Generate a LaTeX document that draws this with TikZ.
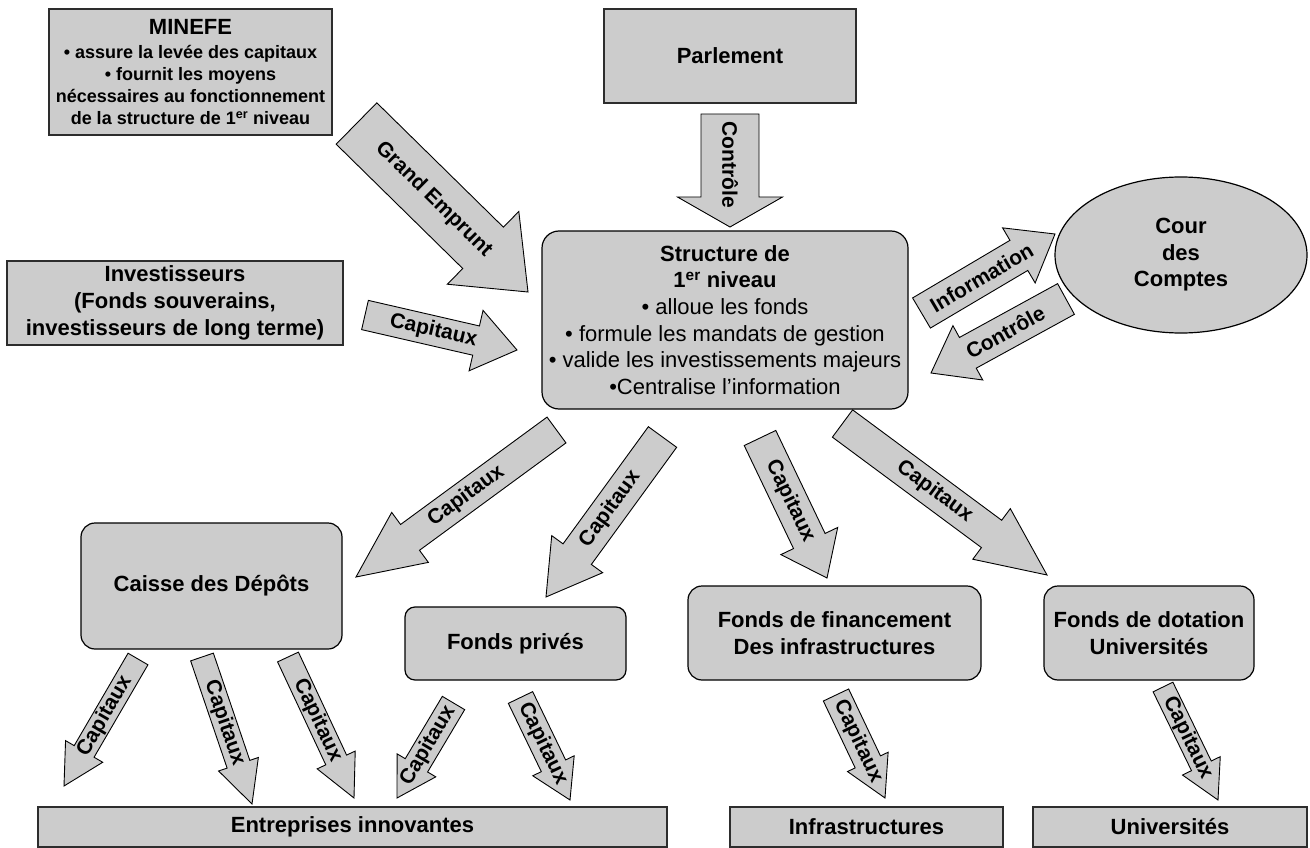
\documentclass[tikz,border=0pt]{standalone}
\usepackage{fontspec}
\setmainfont{Liberation Sans}
\usetikzlibrary{calc,shapes.geometric}
\definecolor{boxgray}{RGB}{204,204,204}
\definecolor{edgegray}{RGB}{45,45,45}
\tikzset{
  sharpbox/.style={rectangle, draw=edgegray, line width=1.6pt, fill=boxgray, align=center, inner sep=0pt},
  roundbox/.style={rectangle, rounded corners=14pt, draw=black, line width=1.2pt, fill=boxgray, align=center, inner sep=0pt},
  arrowbody/.style={draw=black, line width=0.9pt, fill=boxgray, line join=miter},
  arrowlabel/.style={font=\fontsize{21}{24}\selectfont\bfseries, inner sep=0pt},
  bigbold/.style={font=\fontsize{22}{27}\selectfont\bfseries},
}
% tail, tip, half shaft width, half head width, head length, label
\newcommand{\blockarr}[6]{%
  \coordinate (hb) at ($(#2)!#5!(#1)$);
  \draw[arrowbody] ($(#1)!#3!90:(#2)$) -- ($(hb)!#3!90:(#2)$) -- ($(hb)!#4!90:(#2)$) -- (#2)
     -- ($(hb)!#4!-90:(#2)$) -- ($(hb)!#3!-90:(#2)$) -- ($(#1)!#3!-90:(#2)$) -- cycle;
  \path (#1) -- (#2) node[pos=0.45, sloped, arrowlabel] {#6};
}
\begin{document}
\begin{tikzpicture}[x=1pt, y=-1pt]
\useasboundingbox (0,0) rectangle (1310,848);

% ---- boxes ----
\node[sharpbox, minimum width=283pt, minimum height=126pt, font=\fontsize{18}{22}\selectfont\bfseries] (minefe) at (190.5,72)
  {{\fontsize{22}{25}\selectfont MINEFE}\\[2pt]
   • assure la levée des capitaux\\
   • fournit les moyens\\ nécessaires au fonctionnement\\
   de la structure de 1\textsuperscript{er} niveau};
\node[sharpbox, bigbold, minimum width=252pt, minimum height=94pt] (parl) at (730,56) {Parlement};
\node[sharpbox, bigbold, minimum width=336pt, minimum height=84pt] (inv) at (175,303)
  {Investisseurs\\(Fonds souverains,\\investisseurs de long terme)};
\node[roundbox, rounded corners=17pt, minimum width=366pt, minimum height=178pt,
      font=\fontsize{22}{26.6}\selectfont] (struct) at (725,320)
  {\textbf{Structure de}\\\textbf{1\textsuperscript{er} niveau}\\• alloue les fonds\\
   • formule les mandats de gestion\\• valide les investissements majeurs\\•Centralise l’information};
\node[ellipse, draw=black, line width=1.2pt, fill=boxgray, align=center, inner sep=0pt,
      minimum width=252pt, minimum height=156pt, font=\fontsize{22}{26.5}\selectfont\bfseries] (cour) at (1181,255)
  {Cour\\des\\Comptes};
\node[roundbox, bigbold, minimum width=261pt, minimum height=126pt] (caisse) at (211.5,586) {Caisse des Dépôts};
\node[roundbox, rounded corners=10pt, bigbold, minimum width=221pt, minimum height=73pt] (fprives) at (515.5,643.5) {Fonds privés};
\node[roundbox, bigbold, minimum width=293pt, minimum height=94pt] (ffin) at (834.5,633)
  {Fonds de financement\\Des infrastructures};
\node[roundbox, bigbold, minimum width=210pt, minimum height=94pt] (fdot) at (1149,633)
  {Fonds de dotation\\Universités};
\node[sharpbox, bigbold, minimum width=629pt, minimum height=40pt] (entr) at (352.5,827) {Entreprises innovantes};
\node[sharpbox, bigbold, minimum width=273pt, minimum height=40pt] (infra) at (866.5,827) {Infrastructures};
\node[sharpbox, bigbold, minimum width=274pt, minimum height=40pt] (univ) at (1170,827) {Universités};

% ---- arrow end points ----
\coordinate (geT) at (356.5,123.5); \coordinate (geH) at (528,292);
\coordinate (ciT) at (365,315);     \coordinate (ciH) at (517,350);
\coordinate (cpT) at (730,114);     \coordinate (cpH) at (730,227);
\coordinate (inT) at (921.5,313);   \coordinate (inH) at (1055,234);
\coordinate (ccT) at (1066,299);    \coordinate (ccH) at (931,373);
\coordinate (s1T) at (556.5,430);   \coordinate (s1H) at (356,577);
\coordinate (s2T) at (662.5,437);   \coordinate (s2H) at (546,597);
\coordinate (s3T) at (760,438);     \coordinate (s3H) at (827,578);
\coordinate (s4T) at (842.5,423.5); \coordinate (s4H) at (1047,575);
\coordinate (c1T) at (138,659);     \coordinate (c1H) at (64,786);
\coordinate (c2T) at (202,657);     \coordinate (c2H) at (252,804);
\coordinate (c3T) at (288,657);     \coordinate (c3H) at (354,798);
\coordinate (p1T) at (453.5,703);   \coordinate (p1H) at (397,798);
\coordinate (p2T) at (520.5,697.5); \coordinate (p2H) at (570,800);
\coordinate (f1T) at (836,695);     \coordinate (f1H) at (885,798);
\coordinate (d1T) at (1163,687);    \coordinate (d1H) at (1218,800);

% ---- block arrows ----
\blockarr{geT}{geH}{29pt}{51pt}{63pt}{Grand Emprunt}
\blockarr{ciT}{ciH}{15pt}{31pt}{42pt}{Capitaux}
\blockarr{cpT}{cpH}{29pt}{52.5pt}{30pt}{Contrôle}
\blockarr{inT}{inH}{17.5pt}{32pt}{42pt}{Information}
\blockarr{ccT}{ccH}{17.5pt}{31pt}{42pt}{Contrôle}
\blockarr{s1T}{s1H}{16pt}{31pt}{67pt}{Capitaux}
\blockarr{s2T}{s2H}{17.5pt}{31.5pt}{53pt}{Capitaux}
\blockarr{s3T}{s3H}{17.5pt}{31.5pt}{41pt}{Capitaux}
\blockarr{s4T}{s4H}{17pt}{31.5pt}{69pt}{Capitaux}
\blockarr{c1T}{c1H}{11.5pt}{21.5pt}{40pt}{Capitaux}
\blockarr{c2T}{c2H}{12pt}{21pt}{42pt}{Capitaux}
\blockarr{c3T}{c3H}{11.5pt}{21pt}{42pt}{Capitaux}
\blockarr{p1T}{p1H}{13pt}{22.5pt}{38pt}{Capitaux}
\blockarr{p2T}{p2H}{13.5pt}{23pt}{38pt}{Capitaux}
\blockarr{f1T}{f1H}{14pt}{22.5pt}{40pt}{Capitaux}
\blockarr{d1T}{d1H}{11pt}{21pt}{38pt}{Capitaux}
\end{tikzpicture}
\end{document}
